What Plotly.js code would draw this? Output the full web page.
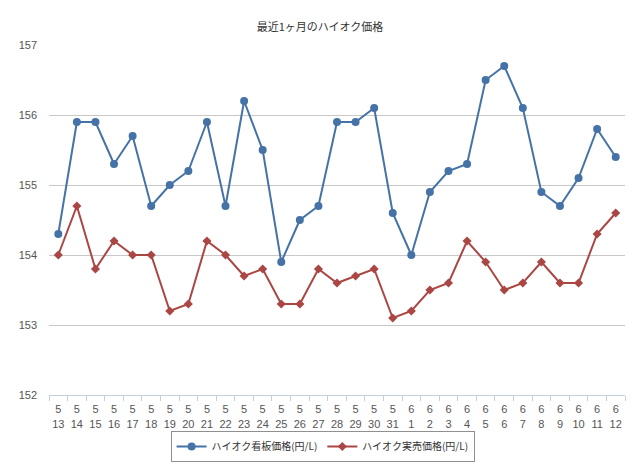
<!DOCTYPE html>
<html><head><meta charset="utf-8">
<script src="https://cdn.plot.ly/plotly-3.0.1.min.js"></script>
<style>html,body{margin:0;padding:0;background:#fff;}#chart{width:640px;height:474px;}</style>
</head><body><div id="chart"></div>
<script>
const months = [5,5,5,5,5,5,5,5,5,5,5,5,5,5,5,5,5,5,5,6,6,6,6,6,6,6,6,6,6,6,6];
const days = [13,14,15,16,17,18,19,20,21,22,23,24,25,26,27,28,29,30,31,1,2,3,4,5,6,7,8,9,10,11,12];
const signPrice = [154.3,155.9,155.9,155.3,155.7,154.7,155.0,155.2,155.9,154.7,156.2,155.5,153.9,154.5,154.7,155.9,155.9,156.1,154.6,154.0,154.9,155.2,155.3,156.5,156.7,156.1,154.9,154.7,155.1,155.8,155.4];
const salePrice = [154.0,154.7,153.8,154.2,154.0,154.0,153.2,153.3,154.2,154.0,153.7,153.8,153.3,153.3,153.8,153.6,153.7,153.8,153.1,153.2,153.5,153.6,154.2,153.9,153.5,153.6,153.9,153.6,153.6,154.3,154.6];
const seriesNames = ['ハイオク看板価格(円/L)','ハイオク実売価格(円/L)'];
const titleText = '最近1ヶ月のハイオク価格';

const cats = months.map((m,i)=> m + '<br>' + days[i]);
const font = '"Liberation Sans", "Noto Sans CJK JP", sans-serif';
const jfont = '"Noto Sans CJK JP", sans-serif';

const traces = [
  {x: cats, y: signPrice, name: seriesNames[0], type:'scatter', mode:'lines+markers',
   line:{color:'#4572A7', width:2}, marker:{symbol:'circle', size:8, color:'#4572A7'}},
  {x: cats, y: salePrice, name: seriesNames[1], type:'scatter', mode:'lines+markers',
   line:{color:'#AA4643', width:2}, marker:{symbol:'diamond', size:7, color:'#AA4643'}}
];
const layout = {
  width:640, height:474,
  margin:{l:49, r:15, t:45, b:76},
  paper_bgcolor:'#fff', plot_bgcolor:'#fff',
  font:{family:font, size:11, color:'#555'},
  title:{text:titleText, x:0.5, xanchor:'center', y:0.943, yanchor:'middle', font:{family:jfont, size:11, color:'#333'}},
  showlegend:true,
  legend:{orientation:'h', x:0.475, xanchor:'center', y:-0.147, yanchor:'middle',
    bordercolor:'#909090', borderwidth:1, itemwidth:30, font:{family:jfont, size:10, color:'#333'}},
  xaxis:{type:'category', categoryorder:'array', categoryarray:cats, tickson:'boundaries',
    ticks:'outside', ticklen:5, tickcolor:'#C0D0E0', showline:true, linecolor:'#C0D0E0', linewidth:1,
    showgrid:false, zeroline:false, range:[-0.5,30.5], tickangle:0, ticklabelstandoff:4,
    tickfont:{size:11, color:'#555'}, fixedrange:true},
  yaxis:{range:[152,157], dtick:1, tick0:152, showgrid:true, gridcolor:'#C8C8C8', gridwidth:1,
    zeroline:false, showline:false, ticks:'', tickfont:{size:11, color:'#555'}, ticklabelstandoff:11, fixedrange:true}
};
Plotly.newPlot('chart', traces, layout, {displayModeBar:false, staticPlot:true});
</script></body></html>
